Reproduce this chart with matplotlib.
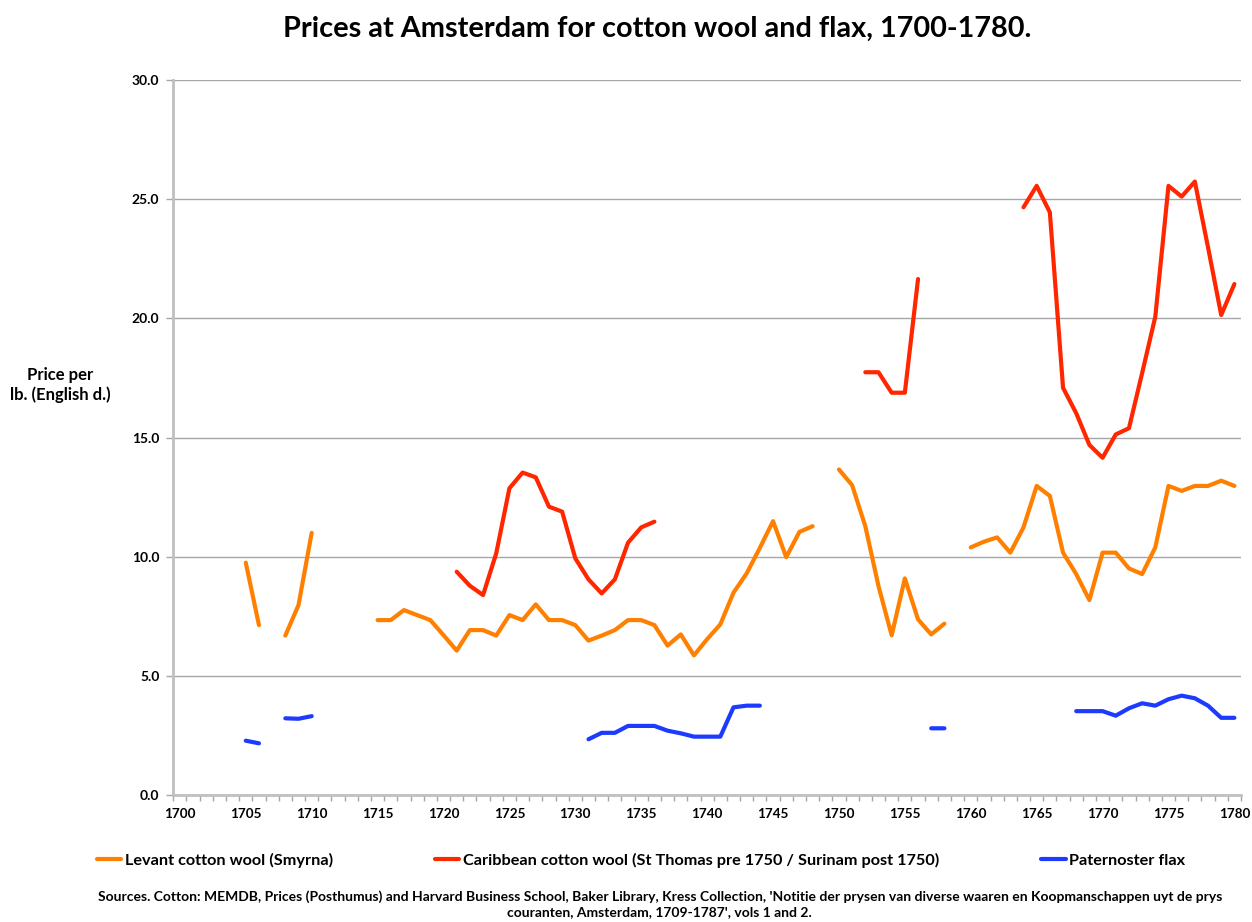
import numpy as np
import matplotlib.pyplot as plt

plt.rcParams['font.family'] = ['Lato', 'DejaVu Sans']
plt.rcParams['font.weight'] = 'bold'

nan = np.nan
years = np.arange(1700, 1781)

# values per year 1700..1780, nan where no quote
levant = [nan, nan, nan, nan, nan, 9.75, 7.13, nan, 6.69, 7.97,   # 1700-1709
          11.0, nan, nan, nan, nan, 7.34, 7.34, 7.76, 7.55, 7.34,   # 1710-1719
          6.71, 6.06, 6.92, 6.92, 6.69, 7.55, 7.34, 8.0, 7.34, 7.34,  # 1720-1729
          7.13, 6.48, 6.69, 6.92, 7.34, 7.34, 7.13, 6.27, 6.74, 5.86,  # 1730-1739
          6.54, 7.16, 8.49, 9.3, 10.37, 11.49, 9.98, 11.04, 11.28, nan,  # 1740-1749
          13.66, 13.0, 11.28, 8.77, 6.7, 9.09, 7.37, 6.74, 7.19, nan,  # 1750-1759
          10.39, 10.63, 10.81, 10.17, 11.23, 12.97, 12.55, 10.17, 9.27, 8.18,  # 1760-1769
          10.17, 10.17, 9.51, 9.27, 10.39, 12.97, 12.76, 12.97, 12.97, 13.19,  # 1770-1779
          12.97]

caribbean = [nan] * 21 + [
    9.37, 8.78, 8.39, 10.14, 12.87, 13.53, 13.33, 12.1, 11.89,  # 1721-1729
    9.93, 9.05, 8.46, 9.05, 10.59, 11.23, 11.47, nan, nan, nan,  # 1730-1739
    nan, nan, nan, nan, nan, nan, nan, nan, nan, nan,  # 1740-1749
    nan, nan, 17.74, 17.74, 16.88, 16.88, 21.65, nan, nan, nan,  # 1750-1759
    nan, nan, nan, nan, 24.66, 25.56, 24.45, 17.09, 16.02, 14.69,  # 1760-1769
    14.15, 15.13, 15.39, 17.7, 20.07, 25.56, 25.11, 25.74, 22.98, 20.14,  # 1770-1779
    21.44]

flax = [nan, nan, nan, nan, nan, 2.28, 2.17, nan, 3.22, 3.2,  # 1700-1709
        3.31, nan, nan, nan, nan, nan, nan, nan, nan, nan,  # 1710-1719
        nan, nan, nan, nan, nan, nan, nan, nan, nan, nan,  # 1720-1729
        nan, 2.34, 2.61, 2.61, 2.9, 2.9, 2.9, 2.7, 2.59, 2.45,  # 1730-1739
        2.45, 2.45, 3.68, 3.75, 3.75, nan, nan, nan, nan, nan,  # 1740-1749
        nan, nan, nan, nan, nan, nan, nan, 2.8, 2.8, nan,  # 1750-1759
        nan, nan, nan, nan, nan, nan, nan, nan, 3.52, 3.52,  # 1760-1769
        3.52, 3.33, 3.64, 3.85, 3.75, 4.02, 4.17, 4.06, 3.75, 3.24,  # 1770-1779
        3.24]

fig = plt.figure(figsize=(12.52, 9.22), dpi=100)
ax = fig.add_axes([0.1384, 0.1377, 0.9912 - 0.1384, 0.9132 - 0.1377])

ax.plot(years, levant, color='#FF8000', lw=3, solid_capstyle='round',
        solid_joinstyle='round', label='Levant cotton wool (Smyrna)')
ax.plot(years, caribbean, color='#FF2600', lw=3, solid_capstyle='round',
        solid_joinstyle='round',
        label='Caribbean cotton wool (St Thomas pre 1750 / Surinam post 1750)')
ax.plot(years, flax, color='#1C3BFF', lw=3, solid_capstyle='round',
        solid_joinstyle='round', label='Paternoster flax')

ax.set_xlim(1699.5, 1780.5)
ax.set_ylim(0, 30)
ax.set_yticks(np.arange(0, 30.1, 5))
ax.set_yticklabels(['%.1f' % v for v in np.arange(0, 30.1, 5)], fontsize=10)
ax.set_xticks(np.arange(1700, 1781, 5))
ax.set_xticklabels([str(y) for y in range(1700, 1781, 5)], fontsize=9.7)
ax.set_xticks(np.arange(1699.5, 1781, 1), minor=True)
ax.tick_params(axis='x', which='major', length=0, pad=9)
ax.tick_params(axis='x', which='minor', length=4, color='#a6a6a6', width=1)
ax.tick_params(axis='y', length=5, color='#a6a6a6', width=1, pad=5)

ax.grid(axis='y', color='#a6a6a6', lw=1)
ax.set_axisbelow(True)
for s in ['top', 'right']:
    ax.spines[s].set_visible(False)
ax.spines['left'].set_color('#c0c0c0')
ax.spines['left'].set_linewidth(2)
ax.spines['bottom'].set_color('#c0c0c0')
ax.spines['bottom'].set_linewidth(2)

fig.text(0.525, 0.969, 'Prices at Amsterdam for cotton wool and flax, 1700-1780.',
         ha='center', va='center', fontsize=20.8, fontweight='bold')
fig.text(0.048, 0.5824, 'Price per\nlb. (English d.)', ha='center', va='center',
         fontsize=12, fontweight='bold', linespacing=1.2)

fig.legend(loc='center', bbox_to_anchor=(0.512, 0.0672), ncol=3, frameon=False,
           fontsize=11.7, handlelength=1.5, handletextpad=0.2, columnspacing=6.3)

fig.text(0.527, 0.019, "Sources. Cotton: MEMDB, Prices (Posthumus) and Harvard Business School, "
         "Baker Library, Kress Collection, 'Notitie der prysen van diverse waaren en "
         "Koopmanschappen uyt de prys\ncouranten, Amsterdam, 1709-1787', vols 1 and 2.",
         ha='center', va='center', fontsize=10, fontweight='bold', linespacing=1.3)

plt.savefig('out.png', dpi=100)
